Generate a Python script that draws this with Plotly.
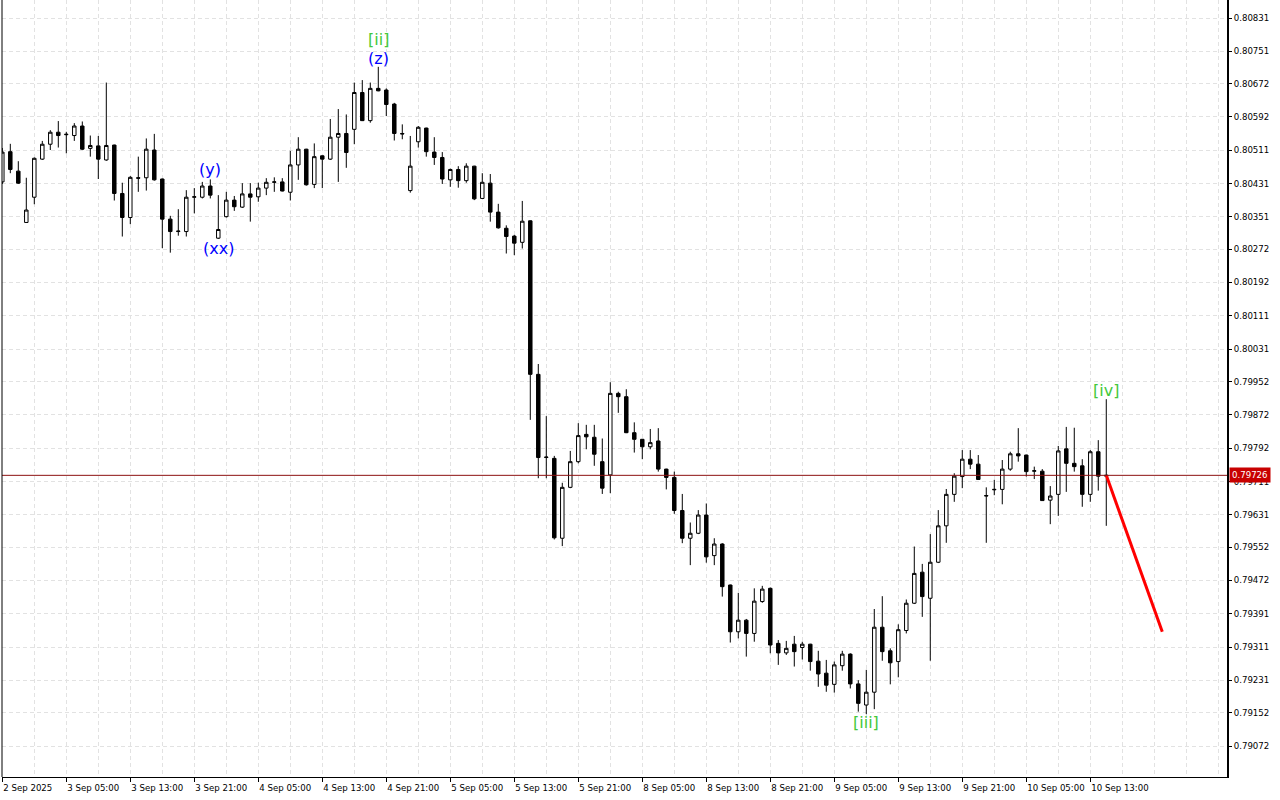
import plotly.graph_objects as go

# ---------------- data (H1 bars, 2 Sep 21:00 -> 10 Sep 15:00) ----------------
bar_index = list(range(139))

open_ = [0.80435,0.80508,0.80461,0.80337,0.80398,0.80490,0.80526,0.80555,0.80549,0.80547,
         0.80570,0.80516,0.80522,0.80488,0.80524,0.80407,0.80349,0.80445,0.80445,0.80512,
         0.80442,0.80345,0.80315,0.80315,0.80398,0.80398,0.80425,0.80299,0.80351,0.80391,
         0.80374,0.80406,0.80399,0.80420,0.80434,0.80435,0.80410,0.80476,0.80514,0.80429,
         0.80498,0.80490,0.80543,0.80552,0.80562,0.80651,0.80583,0.80661,0.80657,0.80623,
         0.80552,0.80414,0.80532,0.80565,0.80507,0.80494,0.80440,0.80465,0.80438,0.80473,
         0.80395,0.80432,0.80362,0.80323,0.80304,0.80289,0.80341,0.79970,0.79769,0.79767,
         0.79574,0.79697,0.79759,0.79825,0.79818,0.79759,0.79727,0.79924,0.79916,0.79829,
         0.79813,0.79795,0.79809,0.79741,0.79721,0.79641,0.79574,0.79586,0.79630,0.79532,
         0.79560,0.79461,0.79348,0.79376,0.79344,0.79421,0.79453,0.79320,0.79297,0.79318,
         0.79310,0.79318,0.79277,0.79248,0.79221,0.79266,0.79294,0.79222,0.79171,0.79202,
         0.79359,0.79302,0.79276,0.79351,0.79417,0.79492,0.79429,0.79516,0.79604,0.79680,
         0.79723,0.79765,0.79753,0.79676,0.79691,0.79692,0.79741,0.79778,0.79775,0.79736,
         0.79736,0.79666,0.79680,0.79790,0.79755,0.79749,0.79680,0.79783,0.79724]

high = [0.80517,0.80527,0.80485,0.80445,0.80494,0.80534,0.80560,0.80582,0.80556,0.80577,
        0.80581,0.80547,0.80546,0.80675,0.80525,0.80433,0.80449,0.80496,0.80540,0.80551,
        0.80443,0.80353,0.80369,0.80415,0.80420,0.80435,0.80441,0.80403,0.80411,0.80401,
        0.80432,0.80432,0.80433,0.80444,0.80446,0.80444,0.80510,0.80543,0.80515,0.80528,
        0.80499,0.80587,0.80611,0.80598,0.80675,0.80681,0.80675,0.80713,0.80661,0.80626,
        0.80574,0.80546,0.80570,0.80566,0.80543,0.80507,0.80467,0.80473,0.80480,0.80474,
        0.80456,0.80454,0.80382,0.80330,0.80307,0.80389,0.80342,0.79995,0.79869,0.79773,
        0.79708,0.79785,0.79852,0.79848,0.79848,0.79815,0.79951,0.79928,0.79934,0.79854,
        0.79814,0.79838,0.79840,0.79742,0.79735,0.79681,0.79612,0.79642,0.79658,0.79574,
        0.79562,0.79462,0.79442,0.79379,0.79453,0.79459,0.79455,0.79328,0.79326,0.79338,
        0.79324,0.79319,0.79302,0.79280,0.79276,0.79302,0.79296,0.79231,0.79256,0.79403,
        0.79434,0.79308,0.79366,0.79426,0.79554,0.79512,0.79584,0.79642,0.79693,0.79731,
        0.79787,0.79787,0.79775,0.79697,0.79715,0.79763,0.79783,0.79840,0.79776,0.79747,
        0.79741,0.79700,0.79797,0.79843,0.79841,0.79765,0.79787,0.79811,0.79910]

low = [0.80430,0.80456,0.80430,0.80336,0.80381,0.80488,0.80512,0.80518,0.80504,0.80534,
       0.80512,0.80496,0.80442,0.80486,0.80390,0.80303,0.80333,0.80411,0.80414,0.80438,
       0.80275,0.80264,0.80305,0.80303,0.80359,0.80395,0.80395,0.80297,0.80349,0.80365,
       0.80372,0.80339,0.80387,0.80403,0.80411,0.80412,0.80390,0.80440,0.80426,0.80420,
       0.80420,0.80488,0.80435,0.80469,0.80526,0.80582,0.80578,0.80654,0.80594,0.80535,
       0.80538,0.80409,0.80518,0.80496,0.80476,0.80430,0.80423,0.80421,0.80433,0.80391,
       0.80394,0.80339,0.80322,0.80262,0.80258,0.80274,0.79860,0.79719,0.79719,0.79571,
       0.79555,0.79695,0.79755,0.79789,0.79749,0.79681,0.79683,0.79877,0.79828,0.79781,
       0.79765,0.79789,0.79735,0.79692,0.79633,0.79562,0.79509,0.79584,0.79515,0.79509,
       0.79433,0.79322,0.79332,0.79288,0.79324,0.79418,0.79296,0.79268,0.79292,0.79264,
       0.79281,0.79254,0.79215,0.79203,0.79201,0.79254,0.79211,0.79155,0.79149,0.79161,
       0.79278,0.79221,0.79238,0.79344,0.79415,0.79384,0.79278,0.79514,0.79563,0.79662,
       0.79695,0.79741,0.79715,0.79563,0.79678,0.79656,0.79737,0.79759,0.79723,0.79717,
       0.79664,0.79608,0.79628,0.79686,0.79735,0.79650,0.79662,0.79689,0.79604]

close = [0.80507,0.80465,0.80432,0.80367,0.80492,0.80526,0.80555,0.80547,0.80550,0.80570,
         0.80514,0.80523,0.80490,0.80523,0.80407,0.80349,0.80446,0.80444,0.80514,0.80440,
         0.80345,0.80315,0.80316,0.80398,0.80399,0.80425,0.80403,0.80320,0.80391,0.80375,
         0.80406,0.80398,0.80420,0.80434,0.80435,0.80413,0.80476,0.80514,0.80428,0.80496,
         0.80490,0.80543,0.80552,0.80506,0.80651,0.80583,0.80661,0.80655,0.80622,0.80552,
         0.80551,0.80473,0.80567,0.80508,0.80494,0.80442,0.80465,0.80438,0.80473,0.80394,
         0.80434,0.80362,0.80324,0.80303,0.80287,0.80340,0.79970,0.79769,0.79770,0.79575,
         0.79697,0.79759,0.79822,0.79819,0.79777,0.79695,0.79924,0.79916,0.79829,0.79813,
         0.79795,0.79805,0.79741,0.79721,0.79641,0.79574,0.79586,0.79630,0.79529,0.79560,
         0.79457,0.79348,0.79376,0.79344,0.79422,0.79451,0.79316,0.79297,0.79308,0.79300,
         0.79318,0.79276,0.79246,0.79219,0.79268,0.79294,0.79222,0.79175,0.79202,0.79359,
         0.79300,0.79273,0.79353,0.79417,0.79489,0.79433,0.79516,0.79604,0.79680,0.79724,
         0.79765,0.79753,0.79716,0.79677,0.79692,0.79741,0.79778,0.79773,0.79735,0.79737,
         0.79665,0.79676,0.79785,0.79755,0.79747,0.79680,0.79783,0.79724,0.79726]

current_price = 0.79726

forecast_x = [138, 145]
forecast_y = [0.79726, 0.79348]

x_tick_pos = [0, 8, 16, 24, 32, 40, 48, 56, 64, 72, 80, 88, 96, 104, 112, 120, 128, 136]
x_tick_text = ["2 Sep 2025", "3 Sep 05:00", "3 Sep 13:00", "3 Sep 21:00", "4 Sep 05:00",
               "4 Sep 13:00", "4 Sep 21:00", "5 Sep 05:00", "5 Sep 13:00", "5 Sep 21:00",
               "8 Sep 05:00", "8 Sep 13:00", "8 Sep 21:00", "9 Sep 05:00", "9 Sep 13:00",
               "9 Sep 21:00", "10 Sep 05:00", "10 Sep 13:00"]

y_tick_vals = [0.80831, 0.80751, 0.80672, 0.80592, 0.80511, 0.80431, 0.80351, 0.80272,
               0.80192, 0.80111, 0.80031, 0.79952, 0.79872, 0.79792, 0.79711, 0.79631,
               0.79552, 0.79472, 0.79391, 0.79311, 0.79231, 0.79152, 0.79072]

wave_labels = ["[ii]", "(z)", "(y)", "(xx)", "[iii]", "[iv]"]
wave_x = [47, 47, 26, 27, 108, 138]
wave_y = [0.80780, 0.80734, 0.80464, 0.80275, 0.79130, 0.79932]
wave_colors = ["#44c83a", "#0000ff", "#0000ff", "#0000ff", "#44c83a", "#44c83a"]

# ---------------- figure ----------------
fig = go.Figure()

fig.add_trace(go.Candlestick(
    x=bar_index, open=open_, high=high, low=low, close=close,
    increasing=dict(line=dict(color="black", width=1), fillcolor="white"),
    decreasing=dict(line=dict(color="black", width=1), fillcolor="black"),
    whiskerwidth=0, showlegend=False, hoverinfo="skip",
))

fig.add_trace(go.Scatter(
    x=forecast_x, y=forecast_y, mode="lines",
    line=dict(color="#ff0000", width=3), showlegend=False, hoverinfo="skip",
))

# current price line
fig.add_shape(type="line", xref="paper", x0=0, x1=1, yref="y",
              y0=current_price, y1=current_price,
              line=dict(color="#8c1010", width=1), layer="above")

# left border
fig.add_shape(type="line", xref="paper", yref="paper", x0=0, x1=0, y0=0, y1=1,
              line=dict(color="black", width=1))

for t, xv, yv, c in zip(wave_labels, wave_x, wave_y, wave_colors):
    fig.add_annotation(x=xv, y=yv, text=t, showarrow=False,
                       font=dict(family="DejaVu Sans", size=16, color=c),
                       xanchor="center", yanchor="middle")

axis_font = dict(family="DejaVu Sans", size=8.6, color="black")

fig.add_annotation(x=1, xref="paper", y=current_price, yref="y",
                   text=f"{current_price:.5f}", showarrow=False,
                   xanchor="left", yanchor="middle", xshift=2,
                   bgcolor="#c80000", borderpad=2,
                   font=dict(family="DejaVu Sans", size=8.6, color="white"))

fig.update_layout(
    width=1280, height=800,
    margin=dict(l=2, r=53, t=0, b=23, pad=0, autoexpand=False),
    paper_bgcolor="white", plot_bgcolor="white",
    boxgap=0.38,
    showlegend=False,
    xaxis=dict(
        range=[-0.0375, 153.09],
        rangeslider=dict(visible=False),
        tickmode="array", tickvals=x_tick_pos, ticktext=x_tick_text,
        tickangle=0, automargin=False,
        ticks="outside", ticklen=4, tickcolor="black", tickwidth=1,
        ticklabelposition="outside right", ticklabelstandoff=3,
        tickfont=axis_font,
        showgrid=True, gridcolor="#e2e2e2", griddash="4px,3px", gridwidth=1,
        minor=dict(tickmode="linear", tick0=0, dtick=4, showgrid=True,
                   gridcolor="#e2e2e2", griddash="4px,3px", ticks=""),
        showline=True, linecolor="black", linewidth=1,
        zeroline=False, fixedrange=True,
    ),
    yaxis=dict(
        side="right",
        range=[0.789971, 0.808745],
        automargin=False,
        tickmode="array", tickvals=y_tick_vals,
        ticktext=[f"{v:.5f}" for v in y_tick_vals],
        ticks="outside", ticklen=3, tickcolor="black", tickwidth=1,
        tickfont=axis_font,
        showgrid=True, gridcolor="#e2e2e2", griddash="4px,3px", gridwidth=1,
        showline=True, linecolor="black", linewidth=2,
        zeroline=False, fixedrange=True,
    ),
)

fig.write_html("out.html", config={"displayModeBar": False},
               post_script="document.body.style.margin='0';document.body.style.overflow='hidden';")
